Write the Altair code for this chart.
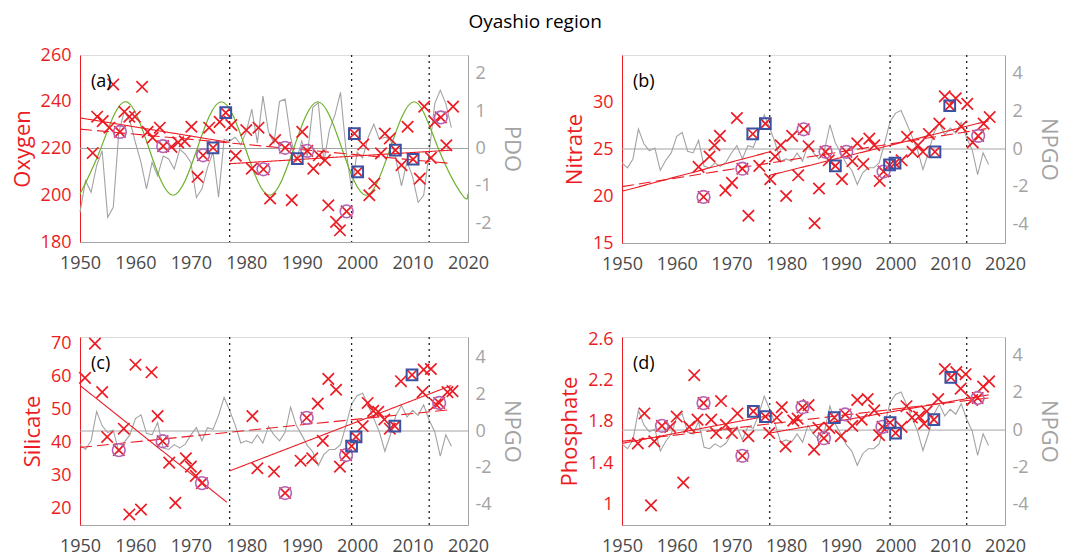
import altair as alt
import pandas as pd

# ---------------- data ----------------
INDEX_YEARS = list(range(1950, 2018))
PDO = [-1.71, -0.86, -1.17, -0.46, -0.06, -1.84, -1.57, 0.43, 1.00, 0.74,
       0.16, -0.37, -1.08, -0.37, -0.73, -0.20, -0.28, -0.55, -0.02, -0.15,
       -0.37, -1.31, -1.08, -0.51, -0.10, -1.30, 0.25, 0.20, 0.30, 0.10,
       0.45, 1.05, 0.15, 1.40, 0.45, 0.15, 1.26, 1.32, 0.30, -0.35,
       0.20, -0.20, 1.10, 1.22, -0.35, 0.50, 0.90, 1.50, -0.05, -1.10,
       -0.10, -0.25, 0.30, 0.65, 0.25, 0.30, 0.25, -0.30, -1.00, -0.35,
       -0.75, -1.44, -1.26, -0.10, 1.20, 1.56, 1.20, 0.56]
NPGO = [-0.74, -1.00, -0.53, 1.06, 0.28, -0.09, 0.05, -1.13, -0.60, -0.21,
        0.67, 0.88, -0.12, -0.21, 0.46, -0.92, -1.00, -0.74, -0.92, -0.71,
        -0.21, 0.18, -0.53, 0.18, 0.09, 0.85, 1.82, 1.12, 0.32, -0.65,
        -0.53, -0.65, -0.21, -0.65, 0.25, -0.21, -0.53, -0.07, 1.29, 0.32,
        -0.21, -0.78, -1.13, -1.89, -1.27, -1.00, -1.00, -0.74, 0.32, 1.47,
        1.91, 2.05, 1.38, 0.67, -0.04, -1.10, -0.21, 0.85, 1.38, 0.76,
        1.12, 0.85, 1.42, 0.58, -0.04, -1.36, -0.21, -0.83]

# green oscillation in (a): peaks, troughs and mid crossings
WAVE_YEARS = [1950.0, 1953.75, 1958.1, 1962.45, 1966.8, 1971.15, 1975.5, 1979.85,
              1984.2, 1988.55, 1992.9, 1997.25, 2001.6, 2005.95, 2010.3, 2014.65,
              2019.0, 2020.0]
WAVE_VALS = [200.5, 220, 240, 220, 200, 220, 240, 220, 200, 220, 240, 220,
             200, 220, 240, 220, 200, 200.6]

OXY_YEARS = [1952.3, 1953.1, 1954.1, 1955.3, 1956.0, 1957.2, 1958.0, 1958.9, 1959.9, 1961.2,
             1962.2, 1963.1, 1964.4, 1965.0, 1966.5, 1967.7, 1968.9, 1970.1, 1971.2, 1972.2,
             1973.3, 1974.0, 1975.2, 1976.3, 1977.3, 1978.1, 1980.0, 1981.0, 1982.2, 1983.1,
             1984.3, 1985.2, 1987.0, 1988.2, 1989.2, 1990.1, 1991.0, 1992.1, 1993.1, 1994.2,
             1994.8, 1996.2, 1996.9, 1998.1, 1999.5, 2000.1, 2001.1, 2002.2, 2003.1, 2004.3,
             2005.0, 2005.9, 2006.9, 2008.0, 2009.1, 2010.1, 2011.3, 2012.1, 2013.3, 2014.0,
             2015.1, 2016.1, 2017.3]
OXY_VALS = [218.1, 233.6, 231.7, 228.9, 247.4, 227.1, 235.7, 233.6, 233.6, 246.4,
            227.1, 224.6, 228.9, 221.0, 220.7, 222.6, 223.1, 229.3, 207.9, 217.1,
            228.9, 220.3, 231.4, 235.3, 230.0, 216.9, 227.9, 211.4, 228.9, 211.1,
            198.6, 223.6, 220.3, 197.9, 215.7, 227.1, 219.0, 211.4, 217.1, 215.0,
            195.7, 188.6, 185.0, 193.1, 226.4, 210.0, 221.7, 200.0, 205.0, 217.9,
            226.4, 224.3, 219.3, 212.9, 229.3, 215.4, 207.1, 237.9, 216.0, 231.4,
            233.3, 221.4, 237.9]
OXY_CIRCLES = [1957.2, 1965.0, 1972.2, 1983.1, 1987.0, 1991.0, 1998.1, 2015.1]
OXY_SQUARES = [1974.0, 1976.3, 1989.2, 1999.5, 2000.1, 2006.9, 2010.1]
OXY_TREND_X = [1950, 1977, 1977, 2017, 1950, 2017]
OXY_TREND_Y = [233.1, 222.6, 213.5, 219.3, 228.3, 213.6]

NIT_YEARS = [1964.0, 1964.9, 1966.0, 1966.9, 1967.9, 1968.9, 1970.1, 1971.0, 1972.0, 1973.1,
             1973.9, 1975.1, 1976.2, 1977.1, 1978.0, 1979.0, 1980.0, 1981.1, 1982.2, 1983.2,
             1984.1, 1985.2, 1986.0, 1987.2, 1987.8, 1989.0, 1990.2, 1991.0, 1992.1, 1993.0,
             1994.1, 1995.2, 1996.1, 1997.1, 1997.8, 1998.9, 1999.9, 2001.1, 2002.1, 2003.1,
             2004.1, 2005.0, 2006.1, 2007.2, 2008.0, 2009.0, 2009.9, 2011.0, 2012.0, 2013.1,
             2014.1, 2015.1, 2016.1, 2017.2]
NIT_VALS = [23.1, 19.9, 24.2, 25.4, 26.4, 20.6, 21.4, 28.3, 22.9, 17.9,
            26.6, 23.2, 27.7, 21.8, 24.2, 25.4, 20.0, 26.4, 22.2, 27.1,
            25.3, 17.1, 20.8, 24.7, 23.8, 23.2, 21.8, 24.7, 23.7, 25.6,
            23.4, 26.1, 25.4, 21.6, 22.6, 23.3, 23.5, 23.8, 26.3, 24.7,
            25.4, 24.7, 26.6, 24.7, 27.7, 30.6, 29.6, 30.4, 27.4, 29.8,
            25.7, 26.4, 27.7, 28.4]
NIT_CIRCLES = [1964.9, 1972.0, 1983.2, 1987.2, 1991.0, 1997.8, 2015.1]
NIT_SQUARES = [1973.9, 1976.2, 1989.0, 1998.9, 1999.9, 2007.2, 2009.9]
NIT_TREND_X = [1950, 1977, 1977, 2017, 1950, 2017]
NIT_TREND_Y = [20.5, 24.7, 22.2, 28.0, 21.0, 27.2]

SIL_YEARS = [1950.9, 1952.7, 1954.0, 1954.9, 1957.0, 1957.9, 1958.9, 1960.0, 1961.0, 1962.9,
             1964.0, 1964.9, 1966.1, 1967.2, 1969.1, 1970.0, 1970.9, 1972.0, 1981.1, 1982.0,
             1985.0, 1987.0, 1989.8, 1990.9, 1991.9, 1992.9, 1993.8, 1994.8, 1996.2, 1996.9,
             1998.0, 1999.0, 1999.8, 2001.0, 2001.9, 2002.9, 2003.8, 2004.9, 2005.9, 2006.8,
             2007.9, 2009.9, 2011.8, 2012.0, 2013.3, 2014.2, 2014.8, 2016.3, 2017.2]
SIL_VALS = [59.6, 70.0, 55.3, 41.7, 37.7, 44.2, 18.2, 63.6, 19.7, 61.3,
            48.0, 40.4, 33.9, 21.7, 35.2, 32.7, 29.9, 27.7, 48.0, 32.2,
            31.2, 24.7, 34.5, 47.5, 35.2, 51.8, 40.5, 59.3, 56.0, 32.7,
            36.2, 38.9, 41.7, 45.0, 52.0, 49.6, 49.3, 47.0, 44.2, 45.0,
            58.6, 60.5, 55.3, 62.1, 62.3, 51.6, 52.0, 55.3, 55.6]
SIL_CIRCLES = [1957.0, 1964.9, 1972.0, 1987.0, 1990.9, 1998.0, 2014.8]
SIL_SQUARES = [1999.0, 1999.8, 2006.8, 2009.9]
SIL_TREND_X = [1950, 1976.5, 1977, 2017, 1950, 2017]
SIL_TREND_Y = [57.3, 21.9, 31.4, 57.3, 38.5, 50.0]

PHO_YEARS = [1952.9, 1954.1, 1955.3, 1955.9, 1957.3, 1958.8, 1960.0, 1961.2, 1962.3, 1963.2,
             1963.8, 1964.9, 1966.3, 1967.2, 1968.1, 1969.0, 1970.1, 1971.1, 1972.0, 1973.1,
             1974.0, 1976.2, 1976.9, 1978.3, 1979.2, 1979.9, 1981.3, 1982.1, 1983.0, 1984.1,
             1985.1, 1985.9, 1986.9, 1987.9, 1988.8, 1990.0, 1990.8, 1992.1, 1993.0, 1993.8,
             1994.9, 1996.1, 1997.0, 1997.6, 1999.0, 2000.0, 2001.1, 2002.0, 2003.0, 2004.3,
             2005.2, 2005.7, 2007.0, 2007.8, 2009.0, 2010.1, 2011.1, 2011.9, 2012.8, 2014.0,
             2015.0, 2016.0, 2017.1]
PHO_VALS = [1.59, 1.88, 0.99, 1.61, 1.76, 1.75, 1.85, 1.21, 1.75, 2.25,
            1.82, 1.98, 1.82, 1.69, 2.00, 1.77, 1.69, 1.88, 1.47, 1.66,
            1.90, 1.85, 1.69, 1.84, 1.94, 1.56, 1.81, 1.83, 1.94, 1.96,
            1.53, 1.74, 1.64, 1.74, 1.84, 1.66, 1.87, 1.76, 2.01, 1.82,
            2.02, 1.91, 1.67, 1.75, 1.79, 1.69, 1.75, 1.95, 1.84, 1.85,
            1.78, 1.90, 1.82, 2.02, 2.31, 2.23, 2.28, 2.12, 2.26, 2.01,
            2.03, 2.14, 2.19]
PHO_CIRCLES = [1957.3, 1964.9, 1972.0, 1983.0, 1986.9, 1990.8, 1997.6, 2015.0]
PHO_SQUARES = [1974.0, 1976.2, 1988.8, 1999.0, 2000.0, 2007.0, 2010.1]
PHO_TREND_X = [1950, 1977, 1977, 2017, 1950, 2017]
PHO_TREND_Y = [1.59, 1.86, 1.69, 2.06, 1.61, 2.03]

TREND_SEG = ["s1", "s1", "s2", "s2", "d", "d"]
TREND_STYLE = ["solid", "solid", "solid", "solid", "dashed", "dashed"]
REGIME_YEARS = [1977, 1999, 2013]
X_TICKS = [1950, 1960, 1970, 1980, 1990, 2000, 2010, 2020]

# ---------------- styling ----------------
RED = "#ec1c24"
GRAY = "#a3a3a3"
GREEN = "#6cb22c"
PURPLE = "#b464b4"
BLUE = "#3a52a3"
FONT = "Open Sans"
XPATH = "M-1,-1L1,1M-1,1L1,-1"
LBL = "toString(datum.value)"


def panel(years, vals, circles, squares, tx, ty, ydom, yticks, ytitle,
          idx_vals, rdom, rticks, rtitle, label, w, h, wave=None):
    pts = pd.DataFrame({"year": years, "v": vals})
    look = dict(zip(years, vals))
    cdf = pd.DataFrame({"year": circles, "v": [look[c] for c in circles]})
    sdf = pd.DataFrame({"year": squares, "v": [look[s] for s in squares]})
    tdf = pd.DataFrame({"year": tx, "v": ty, "seg": TREND_SEG, "style": TREND_STYLE})
    idf = pd.DataFrame({"year": INDEX_YEARS, "r": idx_vals})

    X = alt.X("year:Q", scale=alt.Scale(domain=[1950, 2020], nice=False, zero=False),
              axis=alt.Axis(values=X_TICKS, labelExpr=LBL, title=None, labelFontSize=18,
                            labelColor="#4a4a4a", domainColor=GRAY, ticks=False,
                            labelOverlap=False, labelFlush=False, grid=False,
                            labelPadding=12, labelFont=FONT))
    Y = alt.Y("v:Q", scale=alt.Scale(domain=ydom, nice=False, zero=False),
              axis=alt.Axis(orient="left", values=yticks, labelExpr=LBL, title=ytitle,
                            titleColor=RED, labelColor=RED, domainColor=RED,
                            titleFontSize=22, titleFontWeight="normal", labelFontSize=18,
                            ticks=False, grid=False, labelPadding=9, titlePadding=6,
                            labelOverlap=False, labelFlush=False,
                            labelFont=FONT, titleFont=FONT))
    R = alt.Y("r:Q", scale=alt.Scale(domain=rdom, nice=False, zero=False),
              axis=alt.Axis(orient="right", values=rticks, labelExpr=LBL, title=rtitle,
                            titleColor=GRAY, labelColor=GRAY, domainColor=GRAY,
                            titleFontSize=22, titleFontWeight="normal", labelFontSize=18,
                            ticks=False, grid=False, labelPadding=7, titlePadding=8,
                            labelOverlap=False, labelFlush=False,
                            labelFont=FONT, titleFont=FONT))

    zero = alt.Chart(pd.DataFrame({"r": [0]})).mark_rule(color=GRAY, strokeWidth=1).encode(y=R)
    idx_line = alt.Chart(idf).mark_line(color=GRAY, strokeWidth=1.1).encode(x=X, y=R)
    right = alt.layer(zero, idx_line)

    layers = []
    if wave is not None:
        wdf = pd.DataFrame({"year": wave[0], "v": wave[1]})
        layers.append(alt.Chart(wdf).mark_line(color=GREEN, strokeWidth=1.2,
                                               interpolate="natural").encode(x=X, y=Y))
    layers.append(alt.Chart(pd.DataFrame({"year": REGIME_YEARS})).mark_rule(
        color="#222", strokeDash=[2, 4], strokeWidth=1.3).encode(x=X))
    layers.append(alt.Chart(tdf).mark_line(color=RED, strokeWidth=1.1).encode(
        x=X, y=Y, detail="seg:N",
        strokeDash=alt.StrokeDash("style:N", legend=None,
                                  scale=alt.Scale(domain=["solid", "dashed"],
                                                  range=[[1, 0], [12, 5]]))))
    layers.append(alt.Chart(pts).mark_point(shape=XPATH, size=130, color=RED,
                                            strokeWidth=1.7, filled=False,
                                            opacity=1).encode(x=X, y=Y))
    layers.append(alt.Chart(cdf).mark_point(shape="circle", size=160, color=PURPLE,
                                            strokeWidth=1.6, filled=False,
                                            opacity=1).encode(x=X, y=Y))
    layers.append(alt.Chart(sdf).mark_point(shape="square", size=115, color=BLUE,
                                            strokeWidth=2, filled=False,
                                            opacity=1).encode(x=X, y=Y))
    layers.append(alt.Chart(pd.DataFrame({"t": [label]})).mark_text(
        align="left", baseline="middle", fontSize=18, color="black", font=FONT).encode(
        x=alt.value(11), y=alt.value(27), text="t:N"))
    left = alt.layer(*layers)

    return alt.layer(right, left).resolve_scale(y="independent").properties(width=w, height=h)


pa = panel(OXY_YEARS, OXY_VALS, OXY_CIRCLES, OXY_SQUARES, OXY_TREND_X, OXY_TREND_Y,
           [180, 260], [180, 200, 220, 240, 260], "Oxygen",
           PDO, [-2.5, 2.5], [-2, -1, 0, 1, 2], "PDO", "(a)", 388, 187,
           wave=(WAVE_YEARS, WAVE_VALS))
pb = panel(NIT_YEARS, NIT_VALS, NIT_CIRCLES, NIT_SQUARES, NIT_TREND_X, NIT_TREND_Y,
           [15, 35], [15, 20, 25, 30], "Nitrate",
           NPGO, [-5, 5], [-4, -2, 0, 2, 4], "NPGO", "(b)", 383, 188)
pc = panel(SIL_YEARS, SIL_VALS, SIL_CIRCLES, SIL_SQUARES, SIL_TREND_X, SIL_TREND_Y,
           [15, 72], [20, 30, 40, 50, 60, 70], "Silicate",
           NPGO, [-5.1, 5.1], [-4, -2, 0, 2, 4], "NPGO", "(c)", 388, 188)
pd_ = panel(PHO_YEARS, PHO_VALS, PHO_CIRCLES, PHO_SQUARES, PHO_TREND_X, PHO_TREND_Y,
            [0.8, 2.62], [1, 1.4, 1.8, 2.2, 2.6], "Phosphate",
            NPGO, [-5.1, 5], [-4, -2, 0, 2, 4], "NPGO", "(d)", 383, 188)

chart = alt.concat(pa, pb, pc, pd_, columns=2, bounds="flush",
                   spacing={"row": 94, "column": 154}).properties(
    title=alt.TitleParams("Oyashio region", anchor="middle", fontSize=19,
                          fontWeight="normal", color="black", font=FONT, offset=14),
    padding={"left": 10, "top": 12, "right": 5, "bottom": 5},
).configure_view(stroke=GRAY, strokeWidth=1).configure(font=FONT)

chart.save("out.html", embed_options={"renderer": "svg", "actions": False})
